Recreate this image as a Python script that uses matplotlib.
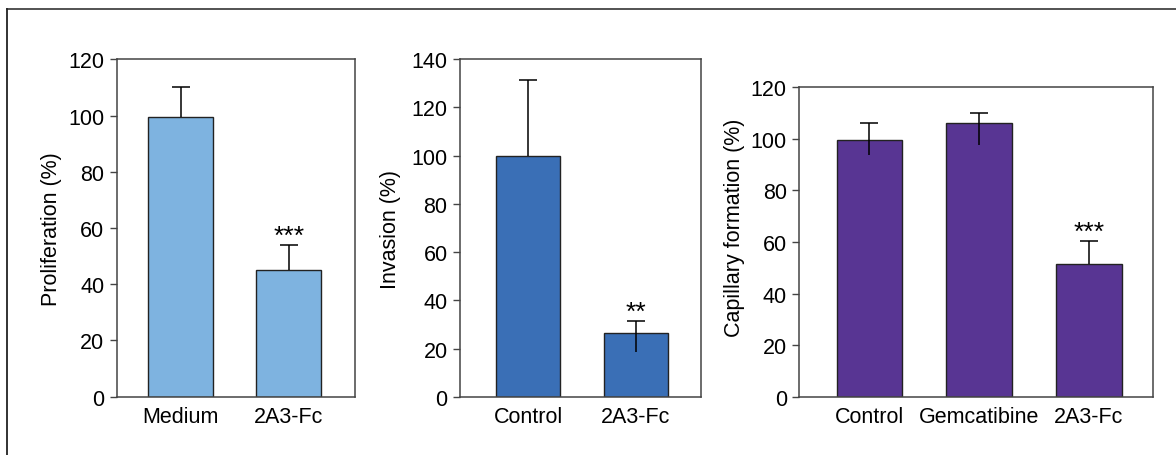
import matplotlib.pyplot as plt
from matplotlib.lines import Line2D

plt.rcParams['font.family'] = ['Liberation Sans', 'DejaVu Sans']

# panel 1: proliferation
prol_labels = ['Medium', '2A3-Fc']
prol_mean = [99.5, 45]
prol_up = [10.5, 9]
prol_low = [0, 0]

# panel 2: invasion
inv_labels = ['Control', '2A3-Fc']
inv_mean = [100, 26.3]
inv_up = [31.3, 5.2]
inv_low = [0, 7.6]

# panel 3: capillary formation
cap_labels = ['Control', 'Gemcatibine', '2A3-Fc']
cap_mean = [99.7, 106, 51.5]
cap_up = [6.5, 4.1, 9]
cap_low = [5.9, 8.5, 0]

stars = [['', '***'], ['', '**'], ['', '', '***']]

FS = 15.5

fig = plt.figure(figsize=(11.76, 4.56), dpi=100)

panels = [
    ([0.0992, 0.1278, 0.2026, 0.740], prol_labels, prol_mean, prol_up, prol_low,
     '#7eb3e0', 'Proliferation (%)', 120, 20, (-0.59, 1.61), (-0.231, 0.5)),
    ([0.3912, 0.1278, 0.2047, 0.740], inv_labels, inv_mean, inv_up, inv_low,
     '#3a6fb6', 'Invasion (%)', 140, 20, (-0.63, 1.60), (-0.246, 0.5)),
    ([0.6797, 0.1278, 0.3010, 0.6785], cap_labels, cap_mean, cap_up, cap_low,
     '#583593', 'Capillary formation (%)', 120, 20, (-0.64, 2.59), (-0.153, 0.55)),
]

for k, (rect, labels, mean, up, low, col, ylab, ymax, step, xl, lc) in enumerate(panels):
    ax = fig.add_axes(rect)
    x = list(range(len(labels)))
    ax.bar(x, mean, width=0.6, color=col, edgecolor='#222222', linewidth=1.0, zorder=2)
    tops = [m + u for m, u in zip(mean, up)]
    bots = [m - l for m, l in zip(mean, low)]
    ax.vlines(x, bots, tops, color='black', linewidth=1.1, zorder=3)
    ax.plot(x, tops, ls='none', marker='_', markersize=13, markeredgewidth=1.1,
            color='black', zorder=3)
    for i, s in enumerate(stars[k]):
        if s:
            ax.annotate(s, (x[i], tops[i]), xytext=(0, 1.5),
                        textcoords='offset points', ha='center', va='baseline',
                        fontsize=19)
    ax.set_xlim(*xl)
    ax.set_ylim(0, ymax)
    ax.set_yticks(range(0, ymax + 1, step))
    ax.set_xticks(x)
    ax.set_xticklabels(labels)
    ax.tick_params(axis='x', length=0, pad=7, labelsize=FS)
    ax.tick_params(axis='y', direction='out', length=5, width=1, pad=4,
                   labelsize=FS, color='#444444')
    for sp in ax.spines.values():
        sp.set_color('#444444')
        sp.set_linewidth(1.1)
    ax.set_ylabel(ylab, fontsize=FS)
    ax.yaxis.set_label_coords(*lc)

# outer frame (top and left edges only)
fig.add_artist(Line2D([7 / 1176, 1.0], [1 - 9.5 / 456, 1 - 9.5 / 456],
                      transform=fig.transFigure, color='#444444', linewidth=1.3))
fig.add_artist(Line2D([7 / 1176, 7 / 1176], [0, 1 - 9.5 / 456],
                      transform=fig.transFigure, color='#222222', linewidth=1.3))

fig.savefig('out.png', dpi=100)
